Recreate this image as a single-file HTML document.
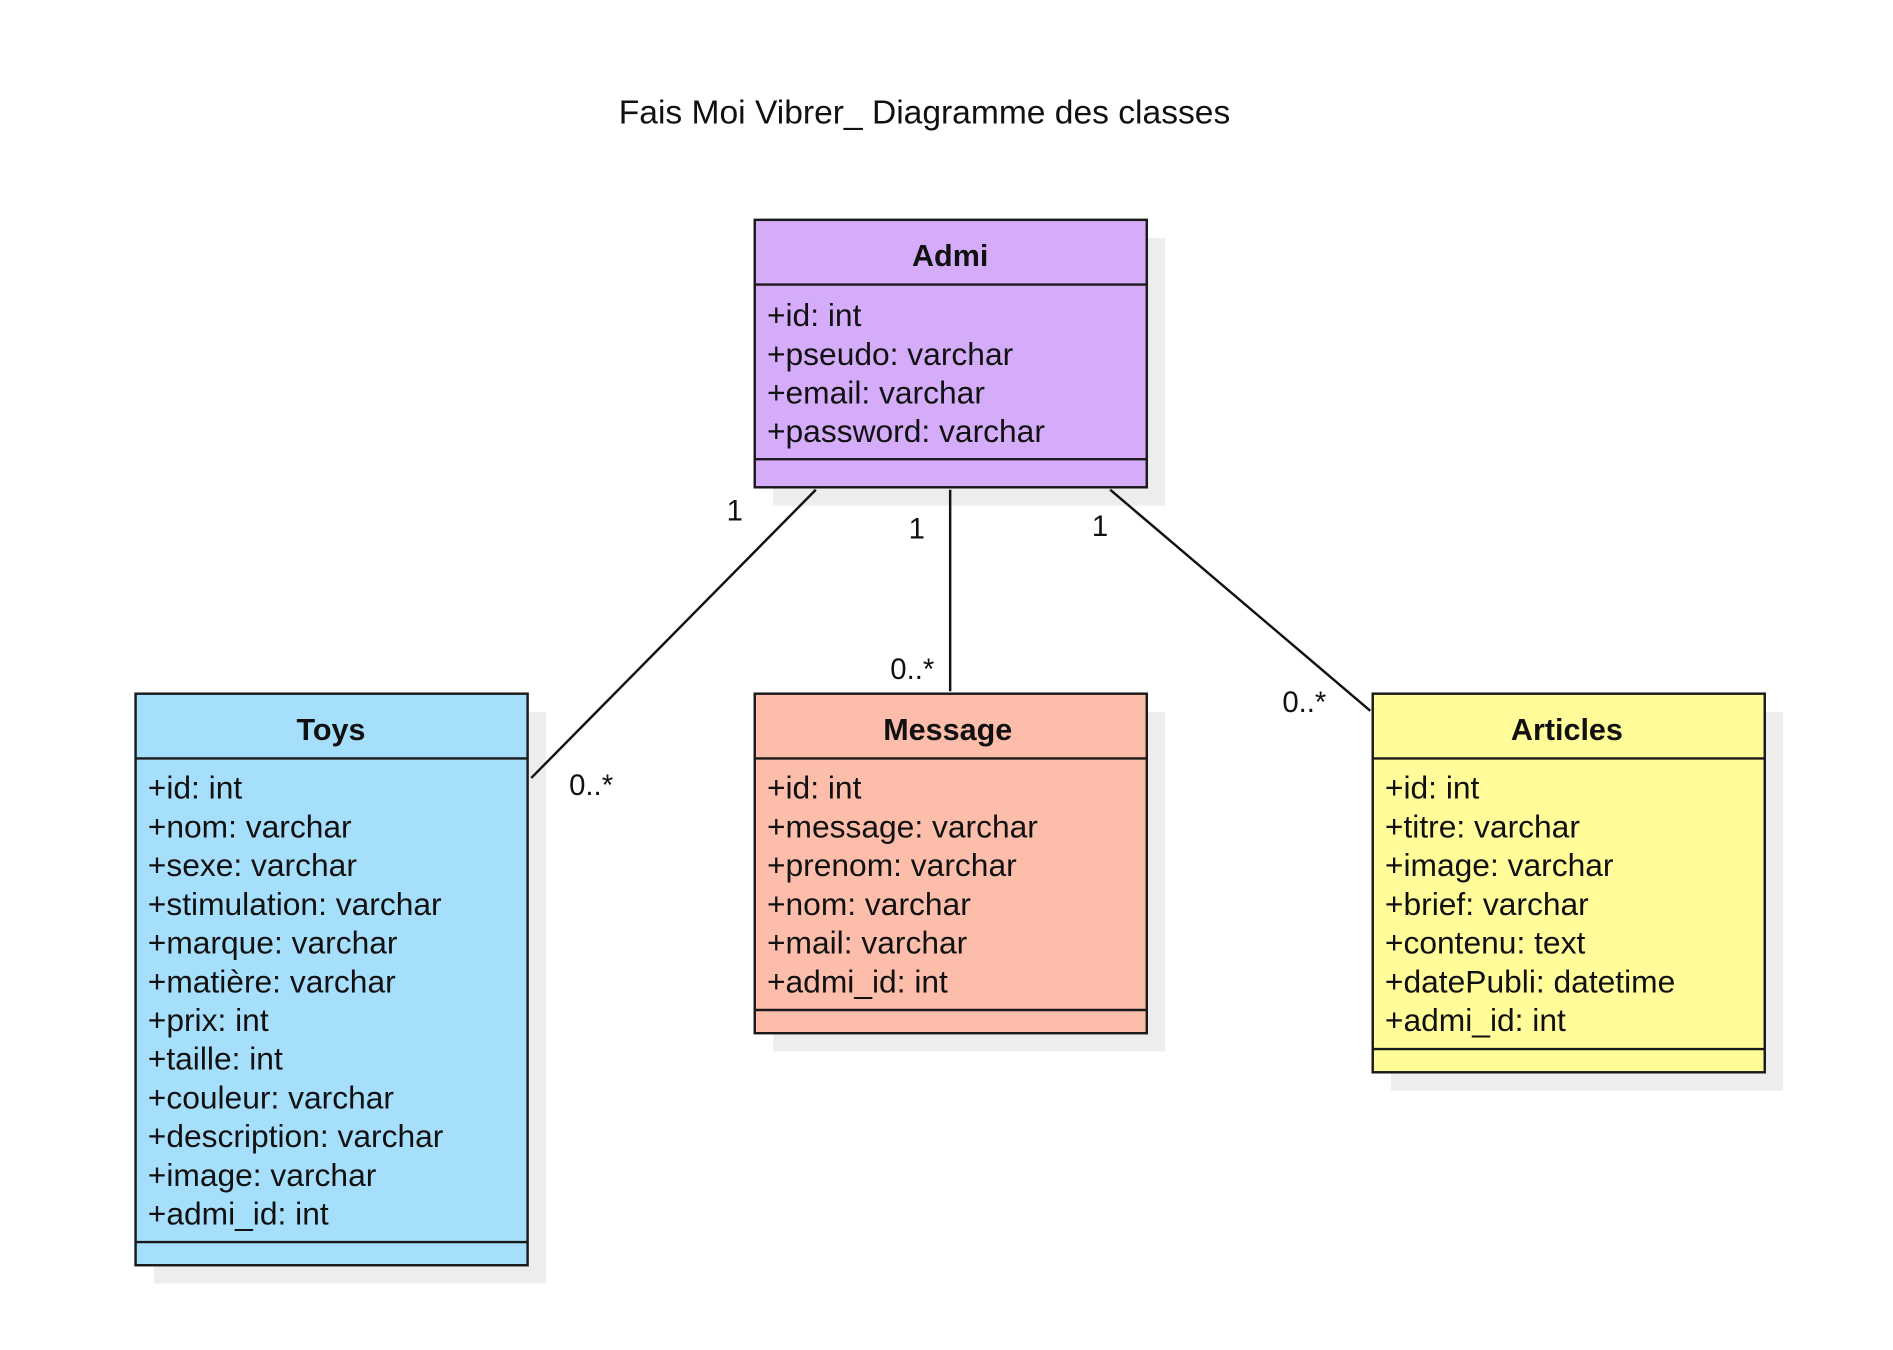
<!DOCTYPE html>
<html><head><meta charset="utf-8"><style>
html,body{margin:0;padding:0;background:#fff;}
svg{display:block;}
text{font-family:"Liberation Sans",Arial,sans-serif;fill:#111;}
</style></head><body>
<svg width="1893" height="1350" viewBox="0 0 1550 1105.4" xmlns="http://www.w3.org/2000/svg">
<rect width="1550" height="1105.4" fill="#fff"/>
<text x="757" y="101" text-anchor="middle" style="font-family:'Liberation Sans',sans-serif;font-size:27.5px">Fais Moi Vibrer_ Diagramme des classes</text>

<!-- shadows -->
<g fill="#ededed">
<rect x="633" y="195" width="321" height="219"/>
<rect x="126" y="583" width="321" height="468"/>
<rect x="633" y="583" width="321" height="278"/>
<rect x="1139" y="583" width="321" height="310"/>
</g>

<!-- connectors -->
<g stroke="#111" stroke-width="2" fill="none">
<line x1="668" y1="401" x2="435" y2="637"/>
<line x1="778" y1="401" x2="778" y2="566"/>
<line x1="909" y1="401" x2="1122" y2="582"/>
</g>
<g font-size="24">
<text x="595" y="426">1</text>
<text x="744" y="441">1</text>
<text x="894" y="439">1</text>
<text x="466" y="651">0..*</text>
<text x="729" y="556">0..*</text>
<text x="1050" y="583">0..*</text>
</g>

<g stroke="#1a1a1a" stroke-width="2">
<!-- Admi -->
<rect x="618" y="180" width="321" height="219" fill="#d5acfa"/>
<line x1="618" y1="233" x2="939" y2="233"/>
<line x1="618" y1="376" x2="939" y2="376"/>
<!-- Toys -->
<rect x="111" y="568" width="321" height="468" fill="#a6dffb"/>
<line x1="111" y1="621" x2="432" y2="621"/>
<line x1="111" y1="1017" x2="432" y2="1017"/>
<!-- Message -->
<rect x="618" y="568" width="321" height="278" fill="#fcbeaa"/>
<line x1="618" y1="621" x2="939" y2="621"/>
<line x1="618" y1="827" x2="939" y2="827"/>
<!-- Articles -->
<rect x="1124" y="568" width="321" height="310" fill="#fffc99"/>
<line x1="1124" y1="621" x2="1445" y2="621"/>
<line x1="1124" y1="859" x2="1445" y2="859"/>
</g>

<g font-size="25" font-weight="bold" text-anchor="middle">
<text x="778" y="218">Admi</text>
<text x="271" y="606">Toys</text>
<text x="776" y="606">Message</text>
<text x="1283" y="606">Articles</text>
</g>

<g font-size="26">
<text x="628" y="267">+id: int</text>
<text x="628" y="298.7">+pseudo: varchar</text>
<text x="628" y="330.4">+email: varchar</text>
<text x="628" y="362.1">+password: varchar</text>

<text x="121" y="654">+id: int</text>
<text x="121" y="685.7">+nom: varchar</text>
<text x="121" y="717.4">+sexe: varchar</text>
<text x="121" y="749.1">+stimulation: varchar</text>
<text x="121" y="780.8">+marque: varchar</text>
<text x="121" y="812.5">+matière: varchar</text>
<text x="121" y="844.2">+prix: int</text>
<text x="121" y="875.9">+taille: int</text>
<text x="121" y="907.6">+couleur: varchar</text>
<text x="121" y="939.3">+description: varchar</text>
<text x="121" y="971">+image: varchar</text>
<text x="121" y="1002.7">+admi_id: int</text>

<text x="628" y="654">+id: int</text>
<text x="628" y="685.7">+message: varchar</text>
<text x="628" y="717.4">+prenom: varchar</text>
<text x="628" y="749.1">+nom: varchar</text>
<text x="628" y="780.8">+mail: varchar</text>
<text x="628" y="812.5">+admi_id: int</text>

<text x="1134" y="654">+id: int</text>
<text x="1134" y="685.7">+titre: varchar</text>
<text x="1134" y="717.4">+image: varchar</text>
<text x="1134" y="749.1">+brief: varchar</text>
<text x="1134" y="780.8">+contenu: text</text>
<text x="1134" y="812.5">+datePubli: datetime</text>
<text x="1134" y="844.2">+admi_id: int</text>
</g>
</svg>
</body></html>
